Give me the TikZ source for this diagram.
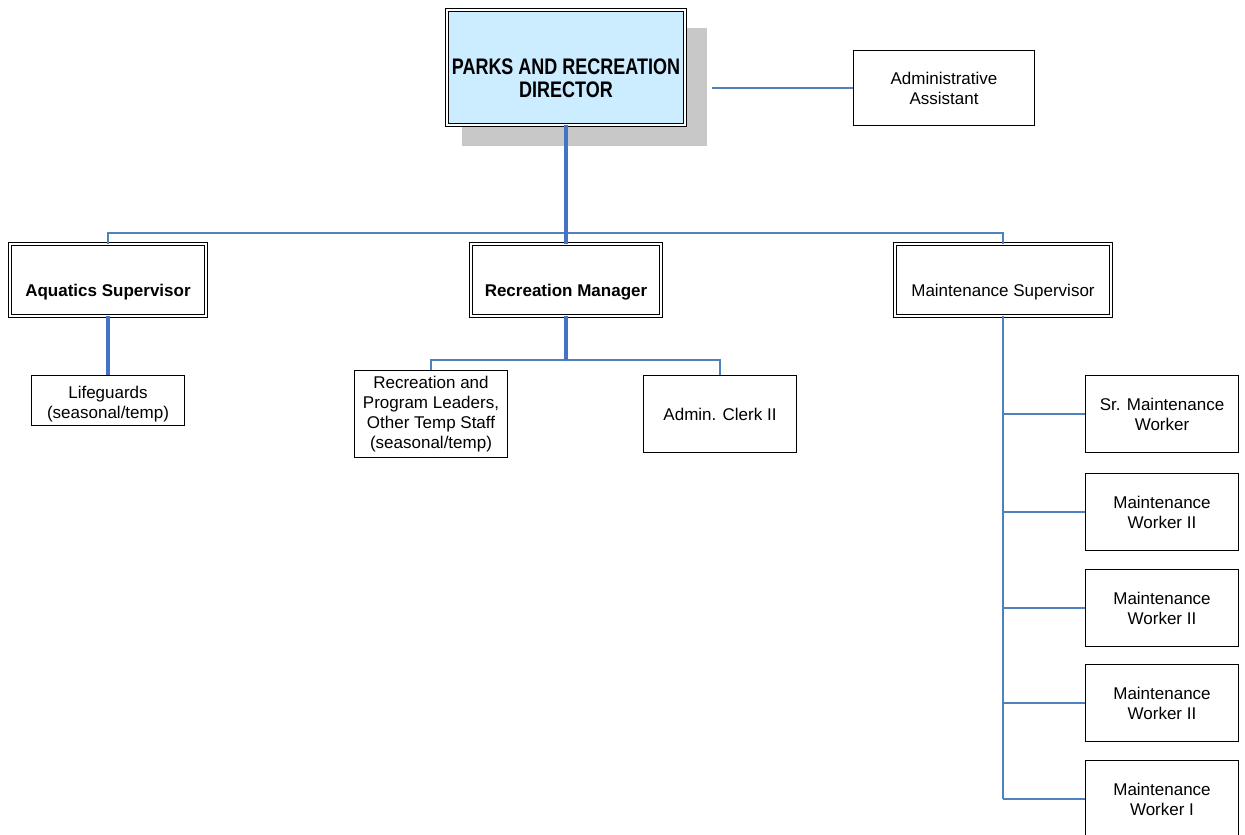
\documentclass[tikz,border=0pt]{standalone}
\usepackage{fontspec}
\setmainfont{Liberation Sans}
\usepackage{graphicx}
\usepackage{tikz}
\usetikzlibrary{calc}
\usepackage{xcolor}

\definecolor{linkblue}{HTML}{4F81BD}
\definecolor{trunkblue}{HTML}{4472C4}
\definecolor{dirfill}{HTML}{CCECFF}
\definecolor{shadowgray}{HTML}{C8C8C8}

\begin{document}
\begin{tikzpicture}[x=1pt,y=-1pt,
		box/.style={draw=black, line width=0.9pt, fill=white, inner sep=2pt, align=center,
			font=\fontsize{17}{20}\selectfont},
		dbox/.style={box, double=white, double distance=2.6pt, line width=0.8pt},
		thinlink/.style={linkblue, line width=1.3pt},
		trunk/.style={trunkblue, line width=4pt}]
		
		\useasboundingbox (0,0) rectangle (1245,835);
		
		% Director with shadow
		\fill[shadowgray] (462,28) rectangle (707,146);
		\node[dbox, fill=dirfill, minimum width=238, minimum height=115,
			font=\bfseries\fontsize{18}{23}\selectfont] (dir) at (566,67.5)
			{\rule{0pt}{38pt}\scalebox{1}[1.25]{PARKS AND RECREATION}\\\scalebox{1}[1.25]{DIRECTOR}};
		\node[box, minimum width=181, minimum height=75] (admin) at (944,88) {Administrative\\Assistant};
		
		% Managers
		\node[dbox, minimum width=196, minimum height=72] (aqua) at (108,280) {\rule{0pt}{36pt}\textbf{Aquatics Supervisor}};
		\node[dbox, minimum width=190, minimum height=72] (recmgr) at (566,280) {\rule{0pt}{36pt}\textbf{Recreation Manager}};
		\node[dbox, minimum width=216, minimum height=72] (maint) at (1003,280) {\rule{0pt}{36pt}Maintenance Supervisor};
		
		% Staff
		\node[box, minimum width=153, minimum height=50] (life) at (108,400) {\rule{0pt}{20pt}Lifeguards\\(seasonal/temp)};
		\node[box, minimum width=153, minimum height=87] (leaders) at (431,414)
			{Recreation and\\Program Leaders,\\Other Temp Staff\\(seasonal/temp)};
		\node[box, minimum width=153, minimum height=77] (clerk) at (720,414) {Admin. Clerk II};
		
		% Maintenance crew
		\node[box, minimum width=153, minimum height=77] (w1) at (1162,414) {Sr. Maintenance\\Worker};
		\node[box, minimum width=153, minimum height=77] (w2) at (1162,512) {Maintenance\\Worker II};
		\node[box, minimum width=153, minimum height=77] (w3) at (1162,608) {Maintenance\\Worker II};
		\node[box, minimum width=153, minimum height=77] (w4) at (1162,703) {Maintenance\\Worker II};
		\node[box, minimum width=153, minimum height=77] (w5) at (1162,799) {Maintenance\\Worker I};
		
		% Connectors
		\coordinate (adminend) at (712,88);
		\coordinate (bus) at (566,233);
		\coordinate (recbus) at (566,360);
		\draw[thinlink] (adminend) -- (admin.west);
		\draw[thinlink] (aqua.north) |- (bus) -| (maint.north);
		\draw[trunk] (dir.south) -- (recmgr.north);
		\draw[trunk] (aqua.south) -- (life.north);
		\draw[thinlink] (leaders.north) |- (recbus) -| (clerk.north);
		\draw[trunk] (recmgr.south) -- (recbus);
		\draw[thinlink] (maint.south) -- (maint.south |- w5.west);
		\foreach \w in {w1,w2,w3,w4,w5}
		\draw[thinlink] (maint.south |- \w.west) -- (\w.west);
		
	\end{tikzpicture}
\end{document}
